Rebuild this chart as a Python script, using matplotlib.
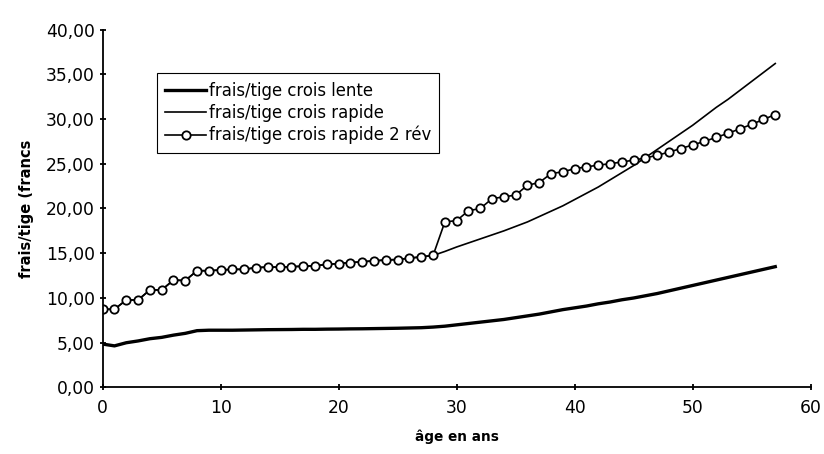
"""Frais par tige selon l'âge du peuplement (trois scénarios de croissance)."""

import matplotlib as mpl

mpl.use("Agg")
import matplotlib.pyplot as plt
from matplotlib.ticker import FuncFormatter, MultipleLocator

# --- données -------------------------------------------------------------
ages = list(range(0, 58))

frais_lente = [
    4.85, 4.65, 5.00, 5.20, 5.45, 5.60, 5.85, 6.05, 6.35, 6.40,
    6.40, 6.40, 6.42, 6.44, 6.46, 6.47, 6.48, 6.50, 6.50, 6.52,
    6.53, 6.55, 6.56, 6.58, 6.60, 6.62, 6.65, 6.68, 6.75, 6.85,
    7.00, 7.15, 7.30, 7.45, 7.60, 7.80, 8.00, 8.20, 8.45, 8.70,
    8.90, 9.10, 9.35, 9.55, 9.80, 10.00, 10.25, 10.50, 10.80, 11.10,
    11.40, 11.70, 12.00, 12.30, 12.60, 12.90, 13.20, 13.50,
]

frais_rapide_2rev = [
    8.74, 8.74, 9.78, 9.78, 10.90, 10.90, 12.00, 11.95, 13.05, 13.05,
    13.13, 13.20, 13.20, 13.40, 13.45, 13.45, 13.50, 13.55, 13.60, 13.75,
    13.85, 13.95, 14.05, 14.15, 14.25, 14.30, 14.45, 14.60, 14.75, 18.50,
    18.65, 19.75, 20.00, 21.10, 21.30, 21.50, 22.60, 22.90, 23.90, 24.10,
    24.45, 24.65, 24.85, 25.00, 25.20, 25.40, 25.65, 25.95, 26.30, 26.70,
    27.10, 27.50, 27.95, 28.40, 28.90, 29.40, 29.95, 30.50,
]

# identique au scénario "2 rév" jusqu'à 28 ans
frais_rapide = frais_rapide_2rev[:29] + [
    15.20, 15.70, 16.15, 16.60, 17.05, 17.50, 18.00, 18.50, 19.10, 19.70,
    20.30, 21.00, 21.70, 22.40, 23.20, 24.00, 24.80, 25.70, 26.60, 27.50,
    28.40, 29.30, 30.30, 31.30, 32.20, 33.20, 34.20, 35.20, 36.20,
]

labels = [
    "frais/tige crois lente",
    "frais/tige crois rapide",
    "frais/tige crois rapide 2 rév",
]


def apply_plot_style() -> None:
    mpl.rcParams.update(
        {
            "figure.facecolor": "white",
            "axes.facecolor": "white",
            "font.family": "DejaVu Sans",
            "font.size": 12,
            "axes.linewidth": 1.3,
            "xtick.major.width": 1.3,
            "ytick.major.width": 1.3,
            "xtick.major.size": 5,
            "ytick.major.size": 5,
            "xtick.direction": "inout",
            "ytick.direction": "inout",
        }
    )


def comma_fmt(v, _pos):
    return f"{v:.2f}".replace(".", ",")


apply_plot_style()
fig = plt.figure(figsize=(8.24, 4.54), dpi=100)
ax = fig.add_axes([0.1246, 0.1465, 0.8592, 0.7885])

ax.plot(ages, frais_lente, color="black", lw=2.4, label=labels[0])
ax.plot(ages, frais_rapide, color="black", lw=1.2, label=labels[1])
ax.plot(
    ages, frais_rapide_2rev, color="black", lw=1.2,
    marker="o", ms=6, mfc="white", mec="black", mew=1.3, label=labels[2],
)

ax.set_xlim(0, 60)
ax.set_ylim(0, 40)
ax.xaxis.set_major_locator(MultipleLocator(10))
ax.yaxis.set_major_locator(MultipleLocator(5))
ax.yaxis.set_major_formatter(FuncFormatter(comma_fmt))
ax.tick_params(axis="both", labelsize=12.3)
ax.tick_params(axis="x", pad=6)
ax.tick_params(axis="y", pad=3)

for side in ("top", "right"):
    ax.spines[side].set_visible(False)

ax.set_xlabel("âge en ans", fontsize=9.8, fontweight="bold", labelpad=9)
ax.set_ylabel("frais/tige (francs", fontsize=10.5, fontweight="bold", labelpad=9)

leg = ax.legend(
    loc="upper left",
    bbox_to_anchor=(0.0763, 0.8777),
    fontsize=11.9,
    frameon=True,
    fancybox=False,
    edgecolor="black",
    framealpha=1,
    handlelength=2.5,
    handletextpad=0.15,
    labelspacing=0.25,
    borderpad=0.5,
    borderaxespad=0,
)
leg.get_frame().set_linewidth(0.8)

fig.savefig("out.png", dpi=100)
